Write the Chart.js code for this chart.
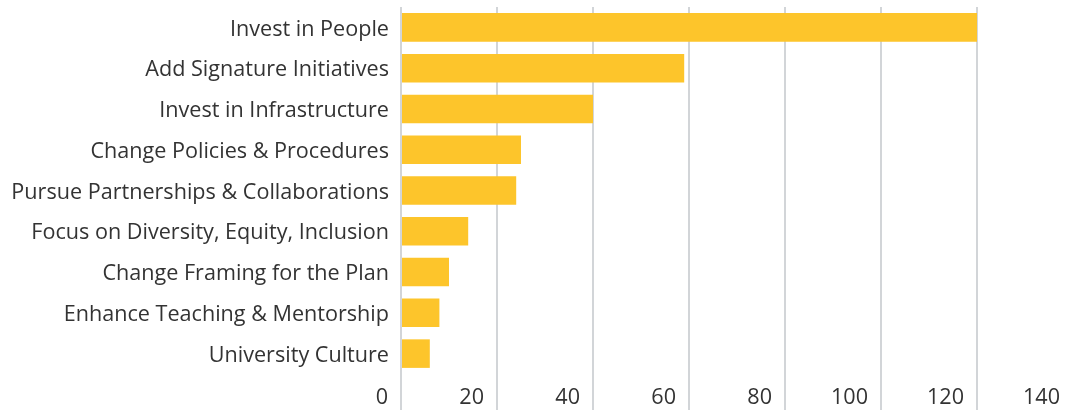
<!DOCTYPE html>
<html>
<head>
<meta charset="utf-8">
<script src="https://cdn.jsdelivr.net/npm/chart.js@4"></script>
<style>
  html, body { margin: 0; padding: 0; background: #fff; overflow: hidden; }
  #wrap { width: 1065px; height: 413px; overflow: hidden; }
</style>
</head>
<body>
<div id="wrap">
<!-- canvas a bit wider than the page so the 140 gridline falls off the edge -->
<canvas id="myChart" width="1073" height="413"></canvas>
</div>
<script>
'use strict';

// chart data
let actionNames = [
  'Invest in People',
  'Add Signature Initiatives',
  'Invest in Infrastructure',
  'Change Policies & Procedures',
  'Pursue Partnerships & Collaborations',
  'Focus on Diversity, Equity, Inclusion',
  'Change Framing for the Plan',
  'Enhance Teaching & Mentorship',
  'University Culture'
];
let actionCounts = [120, 59, 40, 25, 24, 14, 10, 8, 6];
let axisMin = 0;
let axisMax = 140;
let axisStep = 20;

let fontFamily = '"Open Sans", Lato, sans-serif';
let textColor = '#333333';
let gridColor = '#d2d5d8';

const ctx = document.getElementById('myChart').getContext('2d');

let myChart = new Chart(ctx, {
  type: 'bar',
  data: {
    labels: actionNames,
    datasets: [{
      data: actionCounts,
      backgroundColor: '#fdc52b',
      borderWidth: 0,
      barPercentage: 0.7,
      categoryPercentage: 1
    }]
  },
  options: {
    indexAxis: 'y',
    responsive: false,
    animation: false,
    layout: { padding: { top: 7, right: 0, bottom: 0, left: 0 } },
    plugins: {
      legend: { display: false },
      tooltip: { enabled: false }
    },
    scales: {
      x: {
        min: axisMin,
        max: axisMax,
        border: { display: false },
        grid: {
          color: gridColor,
          lineWidth: 2,
          tickLength: 36
        },
        ticks: {
          stepSize: axisStep,
          align: 'end',
          labelOffset: -13,
          padding: -25,
          color: textColor,
          font: { family: fontFamily, size: 21.6 }
        },
        afterFit: function (scale) {
          scale.height = 39;
          scale.paddingLeft = 0;
          scale.paddingRight = 0;
        }
      },
      y: {
        border: { display: false },
        grid: { display: false, drawTicks: false },
        ticks: {
          padding: 12,
          labelOffset: 2,
          color: textColor,
          font: { family: fontFamily, size: 21.6 }
        },
        afterFit: function (scale) {
          scale.width = 401;
          scale.paddingTop = 0;
          scale.paddingBottom = 0;
        }
      }
    }
  }
});
</script>
</body>
</html>
